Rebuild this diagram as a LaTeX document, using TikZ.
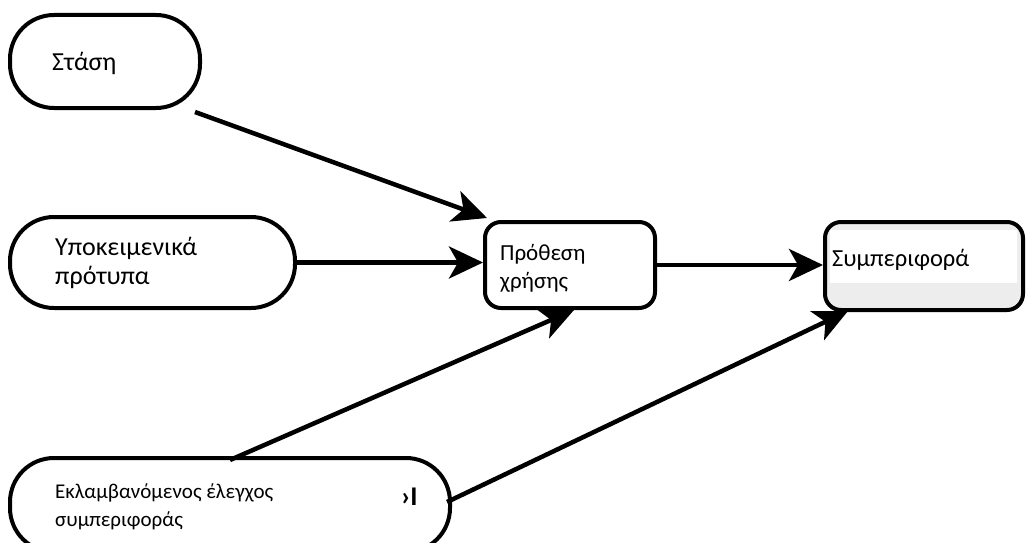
\documentclass[tikz,border=0pt]{standalone}
\usepackage{fontspec}
\setmainfont{Carlito}
\usetikzlibrary{arrows.meta}
\begin{document}
\begin{tikzpicture}[x=1pt,y=-1pt,
  stadium/.style={draw=black,line width=4pt,rounded corners=44pt,fill=white,inner sep=0pt},
  roundbox/.style={draw=black,line width=4pt,rounded corners=16pt,inner sep=0pt},
  lbl/.style={anchor=west,inner sep=0pt,align=left},
  conn/.style={line width=4.5pt,-{Stealth[length=34pt,width=32pt,inset=9pt]}}]
\useasboundingbox[fill=white] (0,0) rectangle (1026,543);
% boxes
\node[stadium,minimum width=190pt,minimum height=93pt] (stasi) at (105,61.5) {};
\node[stadium,minimum width=285pt,minimum height=91pt] (ypok) at (152.5,262.5) {};
\node[roundbox,fill=white,minimum width=170pt,minimum height=86pt] (prothesi) at (570,265) {};
\node[roundbox,fill=gray!14,minimum width=198pt,minimum height=88pt] (symp) at (924,266) {};
\fill[white] (830,230) rectangle (1017,283);
\node[stadium,minimum width=440pt,minimum height=94pt] (ekl) at (230,505) {};
% labels
\node[lbl,font=\fontsize{26}{30}\selectfont] (tstasi) at (52,63) {Στάση};
\node[lbl,font=\fontsize{26}{29}\selectfont] (typok) at (55,263) {Υποκειμενικά\\πρότυπα};
\node[lbl,font=\fontsize{23}{28}\selectfont] (tproth) at (500,268) {Πρόθεση\\χρήσης};
\node[lbl,font=\fontsize{24.5}{30}\selectfont] (tsymp) at (832,260) {Συμπεριφορά};
\node[lbl,font=\fontsize{21}{28}\selectfont] (tekl) at (55,507) {Εκλαμβανόμενος έλεγχος\\συμπεριφοράς};
\node[lbl,font=\fontsize{27}{30}\selectfont\bfseries] (mark) at (401,497) {›I};
% connector ends
\coordinate (s1) at (195,112);
\coordinate (e1) at (487,218);
\coordinate (s3) at (230,460);
\coordinate (e3) at (574,310);
\coordinate (s5) at (447,502);
\coordinate (e5) at (848,311);
\draw[conn] (s1) -- (e1);
\draw[conn] (ypok.east) -- (ypok.east -| prothesi.west);
\draw[conn] (prothesi.east) -- (prothesi.east -| symp.west);
\draw[conn] (s3) -- (e3);
\draw[conn] (s5) -- (e5);
\end{tikzpicture}
\end{document}
